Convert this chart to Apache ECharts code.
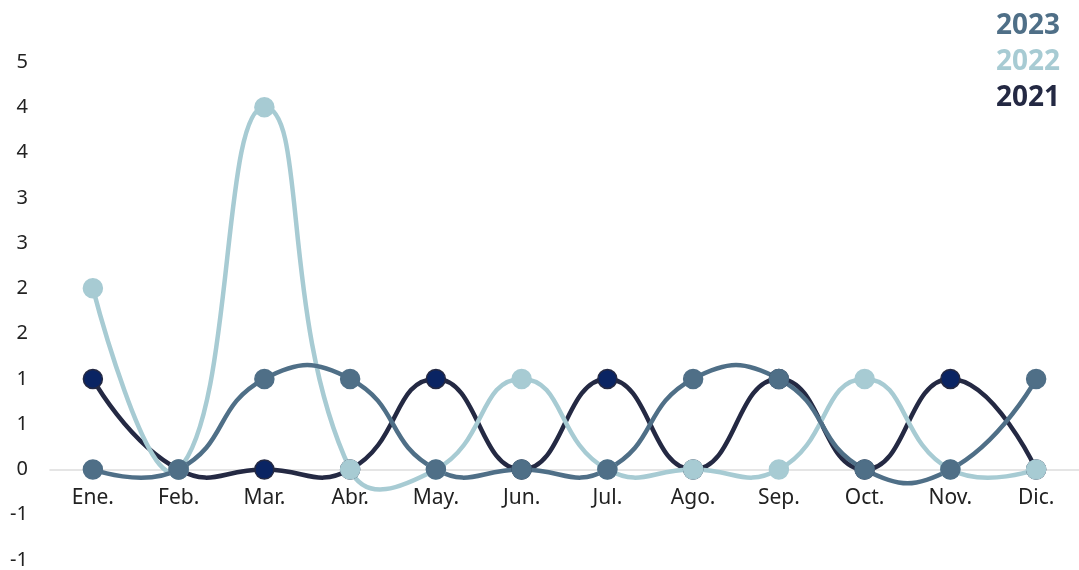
<!DOCTYPE html>
<html>
<head>
<meta charset="utf-8">
<script src="https://cdn.jsdelivr.net/npm/echarts@6/dist/echarts.min.js"></script>
<style>html,body{margin:0;padding:0;background:#fff}#chart{width:1079px;height:570px}</style>
</head>
<body>
<div id="chart"></div>
<script>
var categories = ['Ene.', 'Feb.', 'Mar.', 'Abr.', 'May.', 'Jun.', 'Jul.', 'Ago.', 'Sep.', 'Oct.', 'Nov.', 'Dic.'];
var values2021 = [1, 0, 0, 0, 1, 0, 1, 0, 1, 0, 1, 0];
var values2022 = [2, 0, 4, 0, 0, 1, 0, 0, 0, 1, 0, 0];
var values2023 = [0, 0, 1, 1, 0, 0, 0, 1, 1, 0, 0, 1];
var seriesNames = ['2021', '2022', '2023'];
var legendOrder = ['2023', '2022', '2021'];

var lineColors = { '2021': '#242943', '2022': '#a7cbd3', '2023': '#4f6f87' };
var symbolColors = { '2021': '#0a2463', '2022': '#a7cbd3', '2023': '#4f6f87' };
var dataMap = { '2021': values2021, '2022': values2022, '2023': values2023 };
var FONT = 'Noto Sans';
var SMOOTH = 0.5;

// Classic (cardinal-like) bezier smoothing through points given by the axes
function makeRenderer(vals, color) {
  return function (params, api) {
    var i = params.dataIndex;
    if (i >= vals.length - 1) return null;
    var pts = vals.map(function (v, k) { return api.coord([k, v]); });
    function cps(k) {
      var p = pts[k];
      if (k === 0 || k === pts.length - 1) return [p.slice(), p.slice()];
      var prev = pts[k - 1], next = pts[k + 1];
      var vx = (next[0] - prev[0]) * SMOOTH, vy = (next[1] - prev[1]) * SMOOTH;
      var d0 = Math.hypot(p[0] - prev[0], p[1] - prev[1]);
      var d1 = Math.hypot(p[0] - next[0], p[1] - next[1]);
      var s = d0 + d1;
      if (s !== 0) { d0 /= s; d1 /= s; }
      return [[p[0] - vx * d0, p[1] - vy * d0], [p[0] + vx * d1, p[1] + vy * d1]];
    }
    var a = pts[i], b = pts[i + 1];
    var c1 = cps(i)[1], c2 = cps(i + 1)[0];
    return {
      type: 'bezierCurve',
      shape: { x1: a[0], y1: a[1], x2: b[0], y2: b[1], cpx1: c1[0], cpy1: c1[1], cpx2: c2[0], cpy2: c2[1] },
      style: { stroke: color, lineWidth: 4.5, fill: null, lineCap: 'round' },
      silent: true
    };
  };
}

var series = [];
seriesNames.forEach(function (n) {
  series.push({
    name: n,
    type: 'custom',
    z: 2,
    data: dataMap[n].map(function (v, k) { return [k, v]; }),
    encode: { x: 0, y: 1 },
    renderItem: makeRenderer(dataMap[n], lineColors[n])
  });
});
seriesNames.forEach(function (n) {
  series.push({
    name: n,
    type: 'line',
    z: 3,
    data: dataMap[n],
    symbol: 'circle',
    symbolSize: 19,
    showSymbol: true,
    lineStyle: { width: 0, opacity: 0 },
    itemStyle: { color: symbolColors[n], borderColor: n === '2021' ? '#242943' : symbolColors[n], borderWidth: 1.5 },
    color: lineColors[n]
  });
});

var chart = echarts.init(document.getElementById('chart'));
chart.setOption({
  animation: false,
  textStyle: { fontFamily: FONT },
  legend: {
    orient: 'vertical',
    right: 14,
    top: 7,
    itemWidth: 0,
    itemHeight: 0,
    itemGap: 8,
    icon: 'rect',
    selectedMode: false,
    data: legendOrder.map(function (n) {
      return { name: n, textStyle: { color: lineColors[n], fontWeight: 'bold', fontSize: 28, fontFamily: FONT } };
    })
  },
  grid: { left: 50, right: 0, top: 62, bottom: 10 },
  xAxis: {
    type: 'category',
    data: categories,
    boundaryGap: true,
    offset: -90.5,
    axisLine: { onZero: false, lineStyle: { color: '#dddddd', width: 1.5 } },
    axisTick: { show: false },
    axisLabel: { color: '#222', fontSize: 21, margin: 18, fontFamily: FONT },
    splitLine: { show: false }
  },
  yAxis: {
    type: 'value',
    min: -1,
    max: 4.5,
    interval: 0.5,
    axisLine: { show: false },
    axisTick: { show: false },
    splitLine: { show: false },
    axisLabel: {
      color: '#222', fontSize: 20, margin: 22, fontFamily: FONT,
      formatter: function (v) { return v.toFixed(0); }
    }
  },
  series: series
});
</script>
</body>
</html>
